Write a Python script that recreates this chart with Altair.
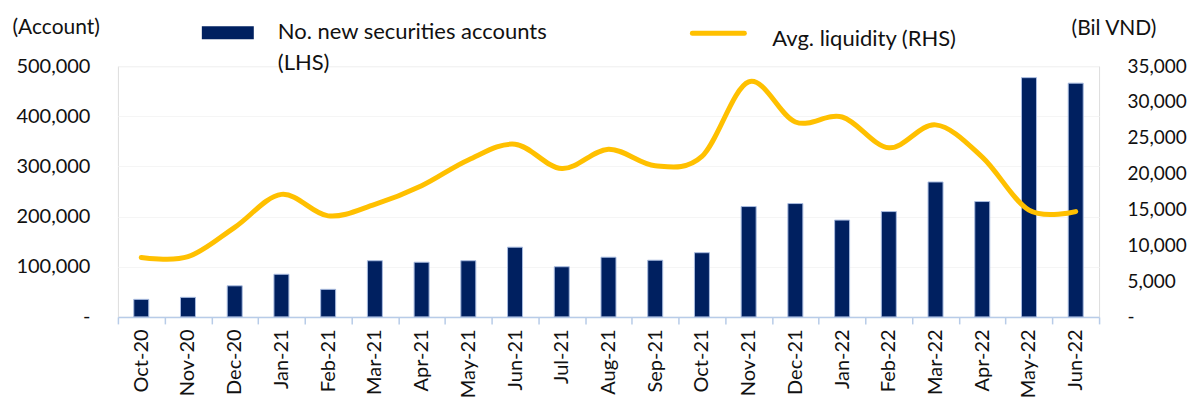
import altair as alt
import pandas as pd

months = ["Oct-20", "Nov-20", "Dec-20", "Jan-21", "Feb-21", "Mar-21", "Apr-21",
          "May-21", "Jun-21", "Jul-21", "Aug-21", "Sep-21", "Oct-21", "Nov-21",
          "Dec-21", "Jan-22", "Feb-22", "Mar-22", "Apr-22", "May-22", "Jun-22"]
accounts = [35000, 39000, 62000, 85000, 55000, 112000, 109000,
            112000, 139000, 100000, 119000, 113000, 128000, 220000,
            226000, 193000, 210000, 269000, 230000, 477000, 466000]
liquidity = [8300, 8400, 12500, 17100, 14100, 15700, 18300,
             21900, 24100, 20700, 23400, 21100, 22400, 32800,
             27200, 27900, 23600, 26800, 22300, 14900, 14700]

bar_label = "No. new securities accounts"
bar_label2 = "(LHS)"
line_label = "Avg. liquidity (RHS)"

FONT = "Lato"
TXT = "#111111"
NAVY = "#002060"
GOLD = "#FFC000"
AXIS_BLUE = "#B8CCE8"

df = pd.DataFrame({"month": months, "accounts": accounts, "liquidity": liquidity})
one = pd.DataFrame({"k": [0]})

x_enc = alt.X(
    "month:N", sort=months, title=None,
    scale=alt.Scale(paddingInner=0, paddingOuter=0),
    axis=alt.Axis(labelAngle=-90, labelFont=FONT, labelFontSize=20, labelColor=TXT,
                  domainColor=AXIS_BLUE, domainWidth=1.5, tickColor=AXIS_BLUE,
                  tickWidth=1.5, tickSize=7, tickBand="extent", labelPadding=5,
                  labelBaseline="middle", grid=False),
)

bars = alt.Chart(df).mark_bar(color=NAVY, stroke="#A9BCE0", strokeWidth=1, size=15).encode(
    x=x_enc,
    y=alt.Y("accounts:Q", scale=alt.Scale(domain=[0, 500000], nice=False),
            axis=alt.Axis(orient="left", values=[0, 100000, 200000, 300000, 400000, 500000],
                          labelExpr="datum.value == 0 ? '-\u00a0\u00a0\u00a0' : format(datum.value, ',')",
                          labelFont=FONT, labelFontSize=20, labelColor=TXT, ticks=False,
                          domain=False, labelPadding=28, grid=True, gridColor="#F5F5F5",
                          title="(Account)", titleAngle=0, titleAlign="left",
                          titleBaseline="middle", titleX=-106, titleY=-39,
                          titleFont=FONT, titleFontSize=21, titleFontWeight="normal",
                          titleColor=TXT)),
)

line = alt.Chart(df).mark_line(color=GOLD, strokeWidth=5, interpolate="cardinal",
                               strokeCap="round").encode(
    x=alt.X("month:N", sort=months),
    y=alt.Y("liquidity:Q", scale=alt.Scale(domain=[0, 35000], nice=False),
            axis=alt.Axis(orient="right", values=[0, 5000, 10000, 15000, 20000, 25000, 30000, 35000],
                          labelExpr="datum.value == 0 ? '-' : format(datum.value, ',')",
                          labelFont=FONT, labelFontSize=19, labelColor=TXT, ticks=False,
                          domain=False, labelPadding=28, grid=False,
                          title="(Bil VND)", titleAngle=0, titleAlign="left",
                          titleBaseline="middle", titleX=-28, titleY=-38,
                          titleFont=FONT, titleFontSize=21, titleFontWeight="normal",
                          titleColor=TXT)),
)

leg_bar = alt.Chart(one).mark_rect(color=NAVY).encode(
    x=alt.value(84), x2=alt.value(136), y=alt.value(-40), y2=alt.value(-27))
leg_bar_t1 = alt.Chart(one).mark_text(text=bar_label, font=FONT, fontSize=22, color=TXT,
                                      align="left", baseline="middle").encode(
    x=alt.value(160), y=alt.value(-34))
leg_bar_t2 = alt.Chart(one).mark_text(text=bar_label2, font=FONT, fontSize=22, color=TXT,
                                      align="left", baseline="middle").encode(
    x=alt.value(160), y=alt.value(-3))
leg_line = alt.Chart(one).mark_rule(color=GOLD, strokeWidth=5, strokeCap="round").encode(
    x=alt.value(575), x2=alt.value(627), y=alt.value(-33))
leg_line_t = alt.Chart(one).mark_text(text=line_label, font=FONT, fontSize=22, color=TXT,
                                      align="left", baseline="middle").encode(
    x=alt.value(655), y=alt.value(-27))

chart = alt.layer(bars, line, leg_bar, leg_bar_t1, leg_bar_t2, leg_line, leg_line_t).resolve_scale(
    y="independent"
).properties(
    width=982, height=251,
    autosize=alt.AutoSizeParams(type="none"),
    padding={"left": 110, "top": 58, "right": 90, "bottom": 80},
).configure_view(stroke=None).configure(background="white")

chart.save("out.html", embed_options={"renderer": "svg", "actions": False})
